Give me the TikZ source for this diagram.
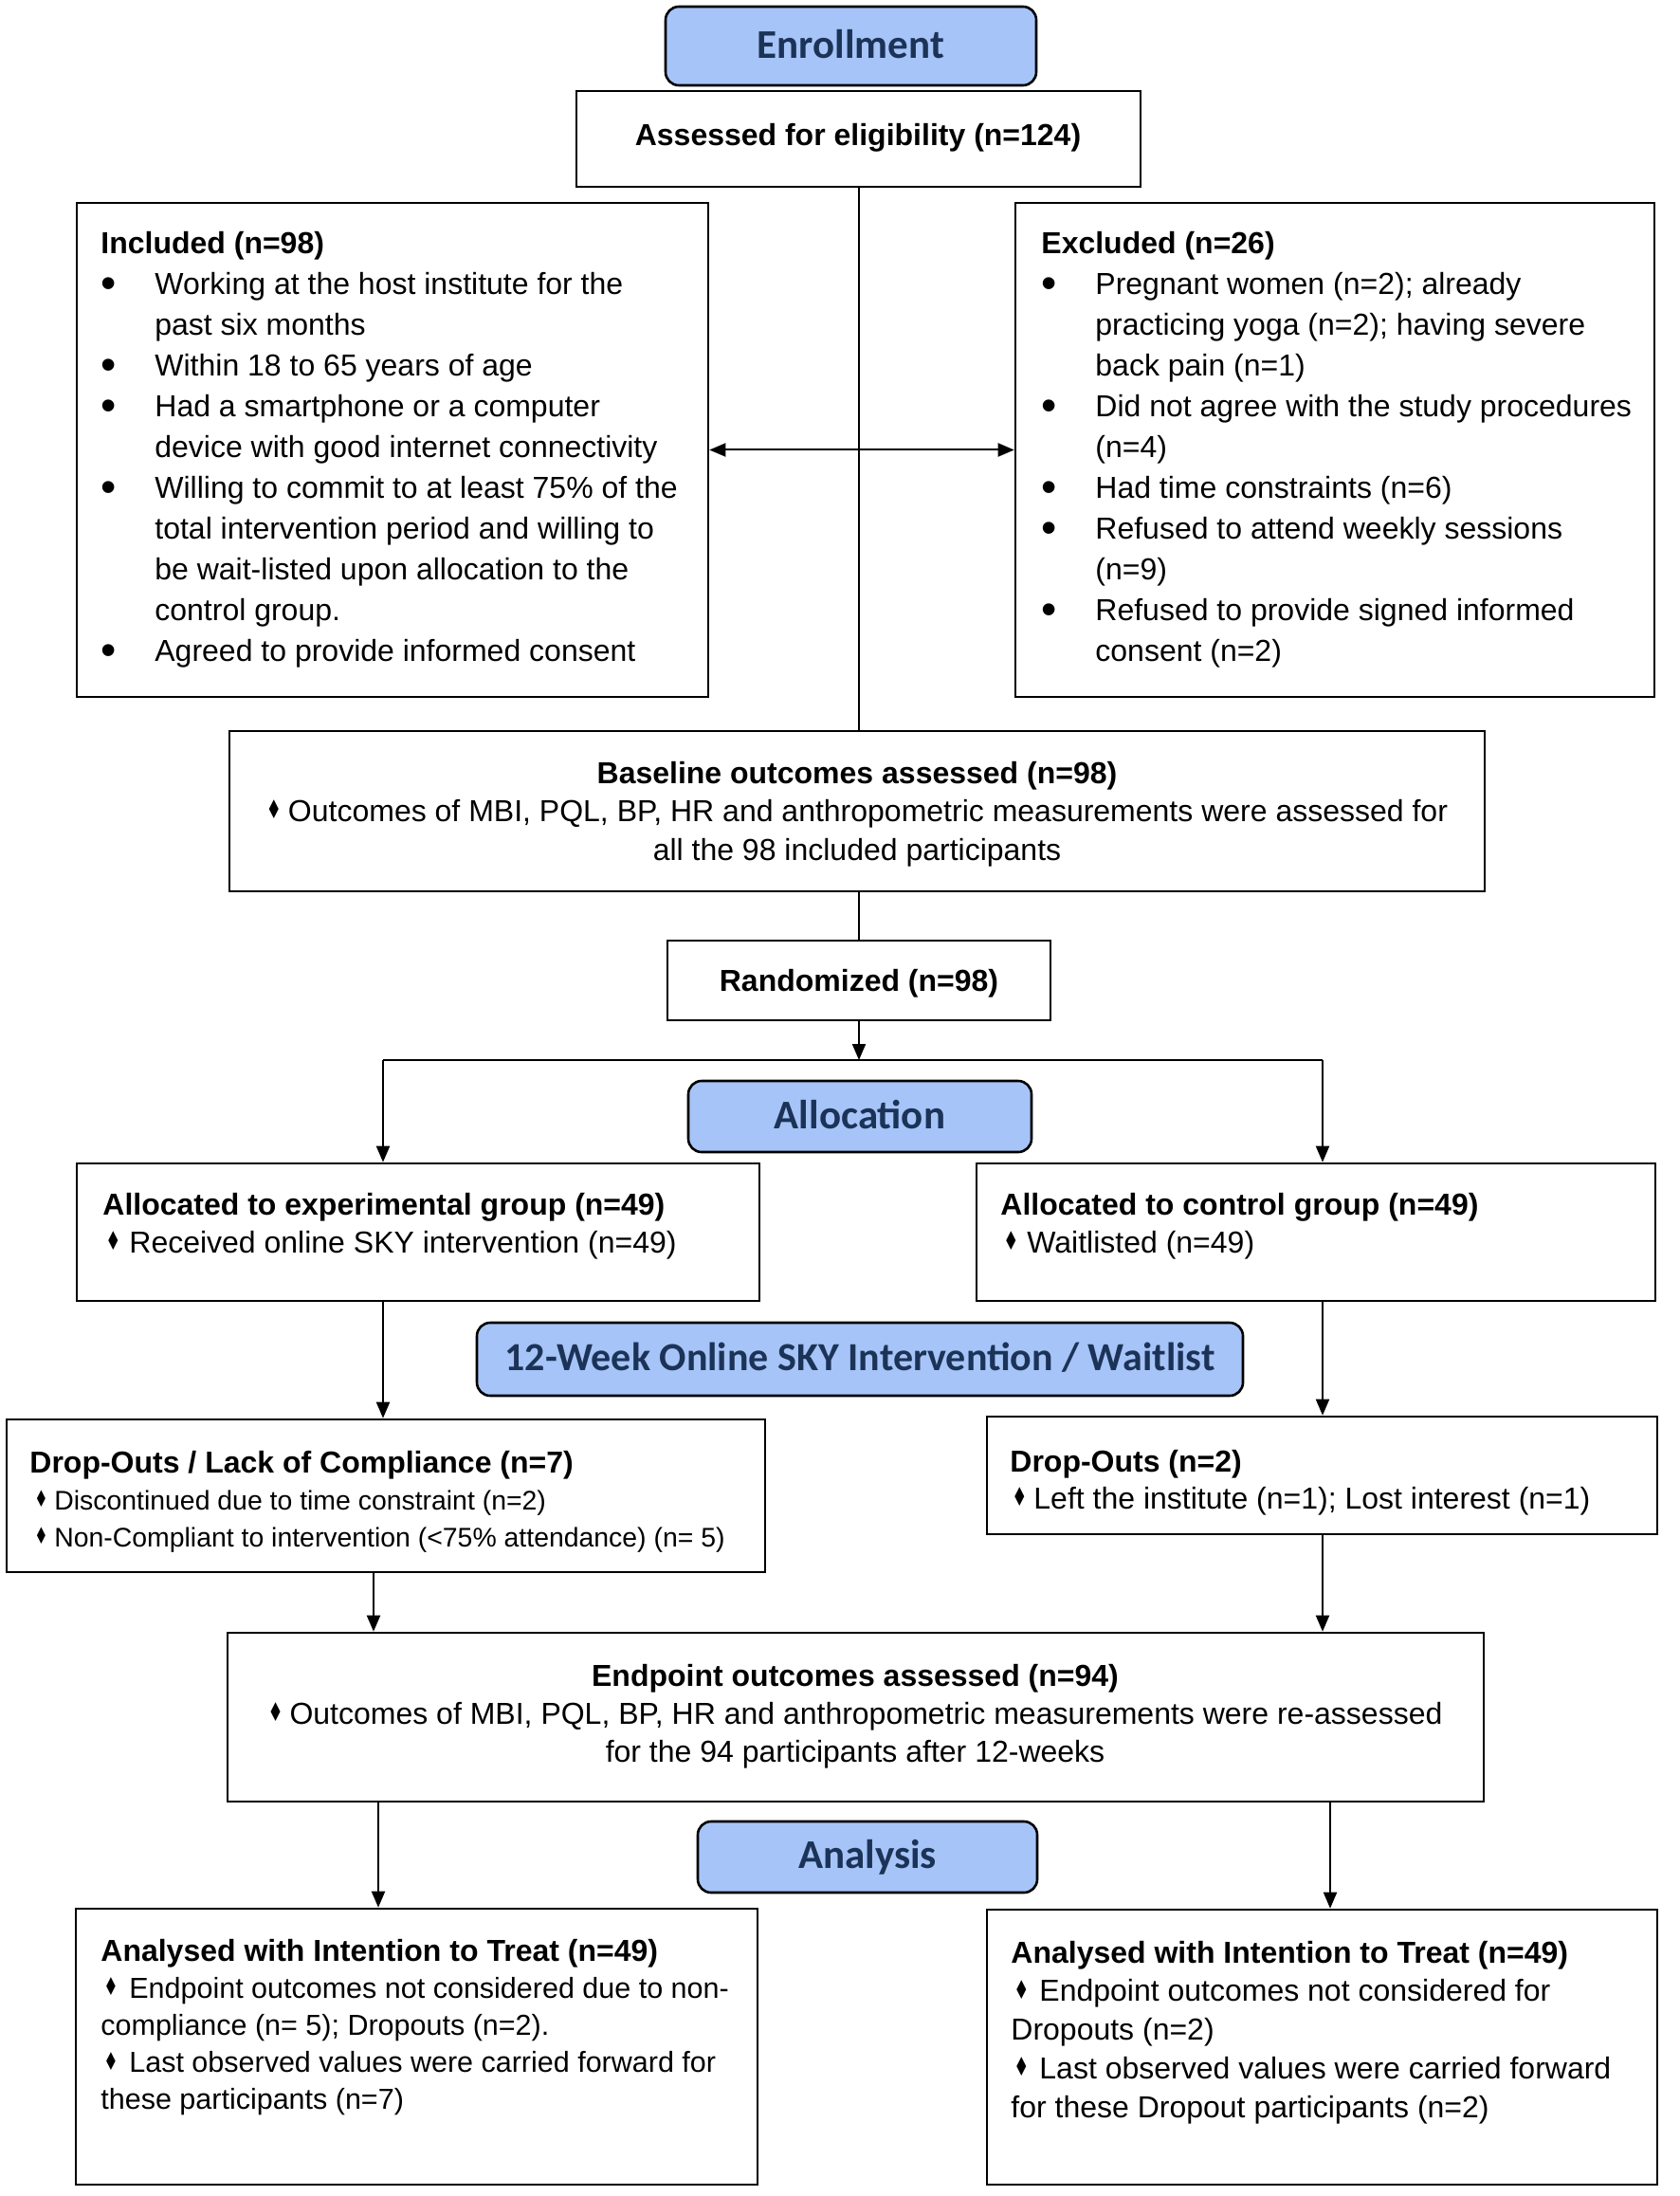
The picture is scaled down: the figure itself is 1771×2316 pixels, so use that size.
\documentclass[tikz,border=0pt]{standalone}
\usepackage{fontspec}
\setmainfont{Liberation Sans}
\newfontfamily\hdrfont{Carlito}
\newfontfamily\dejavu{DejaVu Sans}
\usetikzlibrary{fit,arrows.meta}
\definecolor{hdrfill}{HTML}{A6C4F7}
\definecolor{hdrtext}{HTML}{1C3358}
\newcommand{\dmd}[1]{\makebox[#1][l]{{\dejavu\raisebox{0.08em}{\scalebox{0.56}[0.85]{♦}}}}}
\newcommand{\bul}{\makebox[28.5pt][l]{\raisebox{-0.12em}{\scalebox{1.45}{•}}}}
\newcommand{\ind}{\hspace*{28.5pt}}
\begin{document}
\begin{tikzpicture}[x=0.5pt,y=-0.5pt,
  box/.style={draw=black, line width=1.3pt, inner sep=0pt},
  hdr/.style={draw=black, line width=1.3pt, rounded corners=7pt, fill=hdrfill, inner sep=0pt},
  hdrtxt/.style={inner sep=0pt, anchor=center, font=\hdrfont\bfseries\fontsize{21.5}{24}\selectfont, text=hdrtext},
  txt/.style={inner sep=0pt, anchor=base west},
  ctxt/.style={inner sep=0pt, anchor=base},
  con/.style={line width=1pt},
  arr/.style={line width=1pt, -{Triangle[length=8.5pt,width=7pt]}},
  arrb/.style={line width=1pt, {Triangle[length=8.5pt,width=7pt]}-{Triangle[length=8.5pt,width=7pt]}}]
\fill[white] (0,0) rectangle (1771,2316);
\useasboundingbox (0,0) rectangle (1771,2316);

% ---- boxes ----
\node[hdr, fit={(702,7) (1093,90)}] (enr) {};
\node[box, fit={(608,96) (1203,197)}] (assess) {};
\node[box, fit={(81,214) (747,735)}] (incl) {};
\node[box, fit={(1071,214) (1745,735)}] (excl) {};
\node[box, fit={(242,771) (1566,940)}] (base) {};
\node[box, fit={(704,992) (1108,1076)}] (rand) {};
\node[hdr, fit={(726,1140) (1088,1215)}] (alloc) {};
\node[box, fit={(81,1227) (801,1372)}] (exp) {};
\node[box, fit={(1030,1227) (1746,1372)}] (ctrl) {};
\node[hdr, fit={(503,1395) (1311,1472)}] (interv) {};
\node[box, fit={(7,1497) (807,1658)}] (d1) {};
\node[box, fit={(1041,1494) (1748,1618)}] (d2) {};
\node[box, fit={(240,1722) (1565,1900)}] (endp) {};
\node[hdr, fit={(736,1921) (1094,1996)}] (anal) {};
\node[box, fit={(80,2013) (799,2304)}] (a1) {};
\node[box, fit={(1041,2014) (1748,2304)}] (a2) {};

% ---- header and single-line texts ----
\node[hdrtxt] (enrT) at ([yshift=1pt]enr.center) {Enrollment};
\node[hdrtxt] (allocT) at ([yshift=1pt]alloc.center) {Allocation};
\node[hdrtxt, font=\hdrfont\bfseries\fontsize{21}{24}\selectfont] (intervT) at ([yshift=1pt]interv.center) {12-Week Online SKY Intervention / Waitlist};
\node[hdrtxt] (analT) at ([yshift=0pt]anal.center) {Analysis};
\node[ctxt, font=\bfseries\fontsize{16}{20}\selectfont] (assessT) at (905,154) {Assessed for eligibility (n=124)};
\node[ctxt, font=\bfseries\fontsize{16}{20}\selectfont] (randT) at (906,1045) {Randomized (n=98)};

% ---- texts ----
\node[txt, font=\fontsize{16}{21.5}\selectfont] (inclT) at (106,268) {\begin{tabular}[t]{@{}l@{}}
\textbf{Included (n=98)}\\
\bul Working at the host institute for the\\
\ind past six months\\
\bul Within 18 to 65 years of age\\
\bul Had a smartphone or a computer\\
\ind device with good internet connectivity\\
\bul Willing to commit to at least 75\% of the\\
\ind total intervention period and willing to\\
\ind be wait-listed upon allocation to the\\
\ind control group.\\
\bul Agreed to provide informed consent
\end{tabular}};

\node[txt, font=\fontsize{16}{21.5}\selectfont] (exclT) at (1098,268) {\begin{tabular}[t]{@{}l@{}}
\textbf{Excluded (n=26)}\\
\bul Pregnant women (n=2); already\\
\ind practicing yoga (n=2); having severe\\
\ind back pain (n=1)\\
\bul Did not agree with the study procedures\\
\ind (n=4)\\
\bul Had time constraints (n=6)\\
\bul Refused to attend weekly sessions\\
\ind (n=9)\\
\bul Refused to provide signed informed\\
\ind consent (n=2)
\end{tabular}};

\node[ctxt, font=\fontsize{16}{20.25}\selectfont] (baseT) at (904,826) {\begin{tabular}[t]{@{}c@{}}
\textbf{Baseline outcomes assessed (n=98)}\\
\dmd{11.5pt}Outcomes of MBI, PQL, BP, HR and anthropometric measurements were assessed for\\
all the 98 included participants
\end{tabular}};

\node[txt, font=\fontsize{16}{20.25}\selectfont] (expT) at (108,1281) {\begin{tabular}[t]{@{}l@{}}
\textbf{Allocated to experimental group (n=49)}\\
\hspace*{1.5pt}\dmd{12.5pt}Received online SKY intervention (n=49)
\end{tabular}};

\node[txt, font=\fontsize{16}{20.25}\selectfont] (ctrlT) at (1055,1281) {\begin{tabular}[t]{@{}l@{}}
\textbf{Allocated to control group (n=49)}\\
\hspace*{1.5pt}\dmd{12.5pt}Waitlisted (n=49)
\end{tabular}};

\node[txt, font=\fontsize{14.2}{19.5}\selectfont] (d1T) at (31,1553) {\begin{tabular}[t]{@{}l@{}}
{\fontsize{16}{19.5}\selectfont\bfseries Drop-Outs / Lack of Compliance (n=7)}\\
\hspace*{2.5pt}\dmd{10.5pt}Discontinued due to time constraint (n=2)\\
\hspace*{2.5pt}\dmd{10.5pt}Non-Compliant to intervention (<75\% attendance) (n= 5)
\end{tabular}};

\node[txt, font=\fontsize{16}{19.5}\selectfont] (d2T) at (1065,1552) {\begin{tabular}[t]{@{}l@{}}
\textbf{Drop-Outs (n=2)}\\
\hspace*{1pt}\dmd{11.5pt}Left the institute (n=1); Lost interest (n=1)
\end{tabular}};

\node[ctxt, font=\fontsize{16}{20}\selectfont] (endpT) at (902,1778) {\begin{tabular}[t]{@{}c@{}}
\textbf{Endpoint outcomes assessed (n=94)}\\
\dmd{11.5pt}Outcomes of MBI, PQL, BP, HR and anthropometric measurements were re-assessed\\
for the 94 participants after 12-weeks
\end{tabular}};

\node[txt, font=\fontsize{15.25}{19.6}\selectfont] (a1T) at (106,2068) {\begin{tabular}[t]{@{}l@{}}
{\fontsize{16}{19.6}\selectfont\bfseries Analysed with Intention to Treat (n=49)}\\
\hspace*{1.5pt}\dmd{13.5pt}Endpoint outcomes not considered due to non-\\
compliance (n= 5); Dropouts (n=2).\\
\hspace*{1.5pt}\dmd{13.5pt}Last observed values were carried forward for\\
these participants (n=7)
\end{tabular}};

\node[txt, font=\fontsize{16}{20.4}\selectfont] (a2T) at (1066,2070) {\begin{tabular}[t]{@{}l@{}}
\textbf{Analysed with Intention to Treat (n=49)}\\
\hspace*{1.5pt}\dmd{13.5pt}Endpoint outcomes not considered for\\
Dropouts (n=2)\\
\hspace*{1.5pt}\dmd{13.5pt}Last observed values were carried forward\\
for these Dropout participants (n=2)
\end{tabular}};

% ---- connectors ----
\coordinate (xM) at (906,0);
\coordinate (xL1) at (404,0);
\coordinate (xR1) at (1395,0);
\coordinate (xL2) at (394,0);
\coordinate (xL3) at (399,0);
\coordinate (xR3) at (1403,0);
\coordinate (jn) at (906,1118);
\coordinate (jl) at (404,1118);
\coordinate (jr) at (1395,1118);

\draw[con] (assess.south -| xM) -- (base.north -| xM);
\draw[arrb] (incl.east) -- (excl.west);
\draw[con] (base.south -| xM) -- (rand.north -| xM);
\draw[arr] (rand.south -| xM) -- (jn);
\draw[con] (jl) -- (jr);
\draw[arr] (jl) -- (exp.north -| jl);
\draw[arr] (jr) -- (ctrl.north -| jr);
\draw[arr] (exp.south -| xL1) -- (d1.north -| xL1);
\draw[arr] (ctrl.south -| xR1) -- (d2.north -| xR1);
\draw[arr] (d1.south -| xL2) -- (endp.north -| xL2);
\draw[arr] (d2.south -| xR1) -- (endp.north -| xR1);
\draw[arr] (endp.south -| xL3) -- (a1.north -| xL3);
\draw[arr] (endp.south -| xR3) -- (a2.north -| xR3);
\end{tikzpicture}
\end{document}
